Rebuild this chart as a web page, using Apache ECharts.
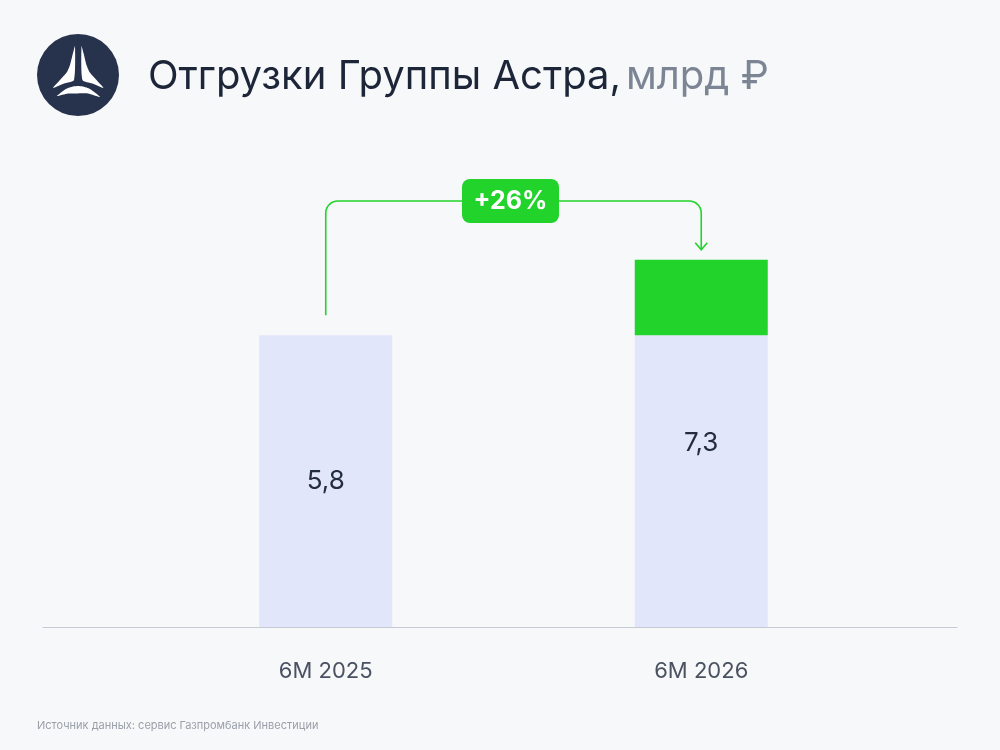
<!DOCTYPE html>
<html>
<head>
<meta charset="utf-8">
<script src="https://cdn.jsdelivr.net/npm/echarts@6/dist/echarts.min.js"></script>
<style>
  html, body { margin: 0; padding: 0; background: #f7f8fa; }
  #chart { width: 1000px; height: 750px; }
</style>
</head>
<body>
<div id="chart"></div>
<script>
// данные
var periods = ['6M 2025', '6M 2026'];
var baseValues = [5.8, 5.8];      // светлая часть столбца
var growthValues = ['-', 1.5];    // прирост (зелёный)
var totalValues = [5.8, 7.3];     // подписи
var growthLabel = '+26%';

var GREEN = '#22d32b';
var FONT = 'Inter, "Noto Sans", sans-serif';

var chart = echarts.init(document.getElementById('chart'));

function fmt(v) {
	return String(v).replace('.', ',');
}

var option = {
	backgroundColor: '#f7f8fa',
	animation: false,
	title: {
		text: '{a|Отгрузки Группы Астра,} {b|млрд ₽}',
		left: 143,
		top: 52,
		textStyle: {
			rich: {
				a: { fontFamily: FONT, fontSize: 40, color: '#1d2639', fontWeight: 400 },
				b: { fontFamily: FONT, fontSize: 40, color: '#7c8593', fontWeight: 400 }
			}
		}
	},
	grid: [
		{ left: 138, width: 751, top: 124, bottom: 123 },   // столбцы
		{ left: 43, right: 43, top: 124, bottom: 123 }      // базовая линия
	],
	xAxis: [
		{
			type: 'category',
			gridIndex: 0,
			data: periods,
			axisLine: { show: false },
			axisTick: { show: false },
			axisLabel: { margin: 33, fontFamily: FONT, fontSize: 22, color: '#4a5262' }
		},
		{
			type: 'value',
			gridIndex: 1,
			min: 0, max: 1,
			axisLine: { show: true, onZero: false, lineStyle: { color: '#c6cad2', width: 1 } },
			axisTick: { show: false },
			axisLabel: { show: false },
			splitLine: { show: false }
		}
	],
	yAxis: [
		{ type: 'value', gridIndex: 0, min: 0, max: 10, show: false },
		{ type: 'value', gridIndex: 1, min: 0, max: 10, show: false }
	],
	series: [
		{
			name: 'base',
			type: 'bar',
			stack: 'a',
			barWidth: 133,
			silent: true,
			data: baseValues,
			itemStyle: { color: '#e1e6fb' }
		},
		{
			name: 'growth',
			type: 'bar',
			stack: 'a',
			barWidth: 133,
			silent: true,
			data: growthValues,
			itemStyle: { color: GREEN }
		},
		{
			name: 'total',
			type: 'bar',
			barWidth: 133,
			barGap: '-100%',
			silent: true,
			data: totalValues,
			itemStyle: { color: 'rgba(0,0,0,0)' },
			label: {
				show: true,
				position: 'inside',
				fontFamily: FONT,
				fontSize: 26,
				color: '#232c40',
				formatter: function (p) { return fmt(p.value); }
			}
		}
	]
};
chart.setOption(option);

// точки дуги для скруглённых углов
function arcPts(cx, cy, rad, a0, a1) {
	var pts = [];
	for (var k = 0; k <= 8; k++) {
		var a = a0 + (a1 - a0) * k / 8;
		pts.push([cx + rad * Math.cos(a), cy + rad * Math.sin(a)]);
	}
	return pts;
}

// стрелка и плашка с приростом
var p1 = chart.convertToPixel({ seriesIndex: 0 }, [0, baseValues[0]]);
var p2 = chart.convertToPixel({ seriesIndex: 0 }, [1, totalValues[1]]);
var x1 = p1[0], x2 = p2[0];
var yTop = 201, r = 12;
var yStart = p1[1] - 20;
var yEnd = p2[1] - 10;
var mid = (x1 + x2) / 2 - 3;

var linePts = [[x1, yStart]]
	.concat(arcPts(x1 + r, yTop + r, r, Math.PI, Math.PI * 1.5))
	.concat(arcPts(x2 - r, yTop + r, r, Math.PI * 1.5, Math.PI * 2))
	.concat([[x2, yEnd]]);

// логотип
var LX = 78, LY = 75;
var leftBlade = [[-3, -29], [-5, -22], [-8, -10], [-11, -3], [-18, 5], [-25, 13], [-14, 8.5], [-4, 5]];
var rightBlade = leftBlade.map(function (p) { return [-p[0] + 0.5, p[1]]; });
var bottomBlade = [[-21, 21], [-12, 14], [-5, 11.5], [0, 11], [5, 11.5], [12, 14], [22, 22],
	[10, 18.5], [0, 18.5], [-10, 18.5]];

function shift(pts) {
	return pts.map(function (p) { return [LX + p[0], LY + p[1]]; });
}

var logo = [
	{ type: 'circle', shape: { cx: LX, cy: LY, r: 41 }, style: { fill: '#27324d' } }
];
[leftBlade, rightBlade, bottomBlade].forEach(function (b) {
	logo.push({
		type: 'polygon',
		shape: { points: shift(b), smooth: 0.2 },
		style: { fill: '#ffffff' }
	});
});

chart.setOption({
	graphic: logo.concat([
		{
			type: 'polyline',
			shape: { points: linePts },
			style: { fill: null, stroke: GREEN, lineWidth: 1.6 }
		},
		{
			type: 'polyline',
			shape: { points: [[x2 - 6, yEnd - 7], [x2, yEnd], [x2 + 6, yEnd - 7]] },
			style: { fill: null, stroke: GREEN, lineWidth: 1.6 }
		},
		{
			type: 'rect',
			shape: { x: mid - 48.5, y: 179, width: 97, height: 44, r: 8 },
			style: { fill: GREEN }
		},
		{
			type: 'text',
			x: mid, y: yTop,
			style: {
				text: growthLabel,
				fill: '#ffffff',
				fontFamily: FONT,
				fontSize: 25,
				fontWeight: 700,
				align: 'center',
				verticalAlign: 'middle'
			}
		},
		{
			type: 'text',
			left: 37, top: 720,
			style: {
				text: 'Источник данных: сервис Газпромбанк Инвестиции',
				fill: '#9aa0aa',
				fontFamily: FONT,
				fontSize: 11
			}
		}
	])
});
</script>
</body>
</html>
